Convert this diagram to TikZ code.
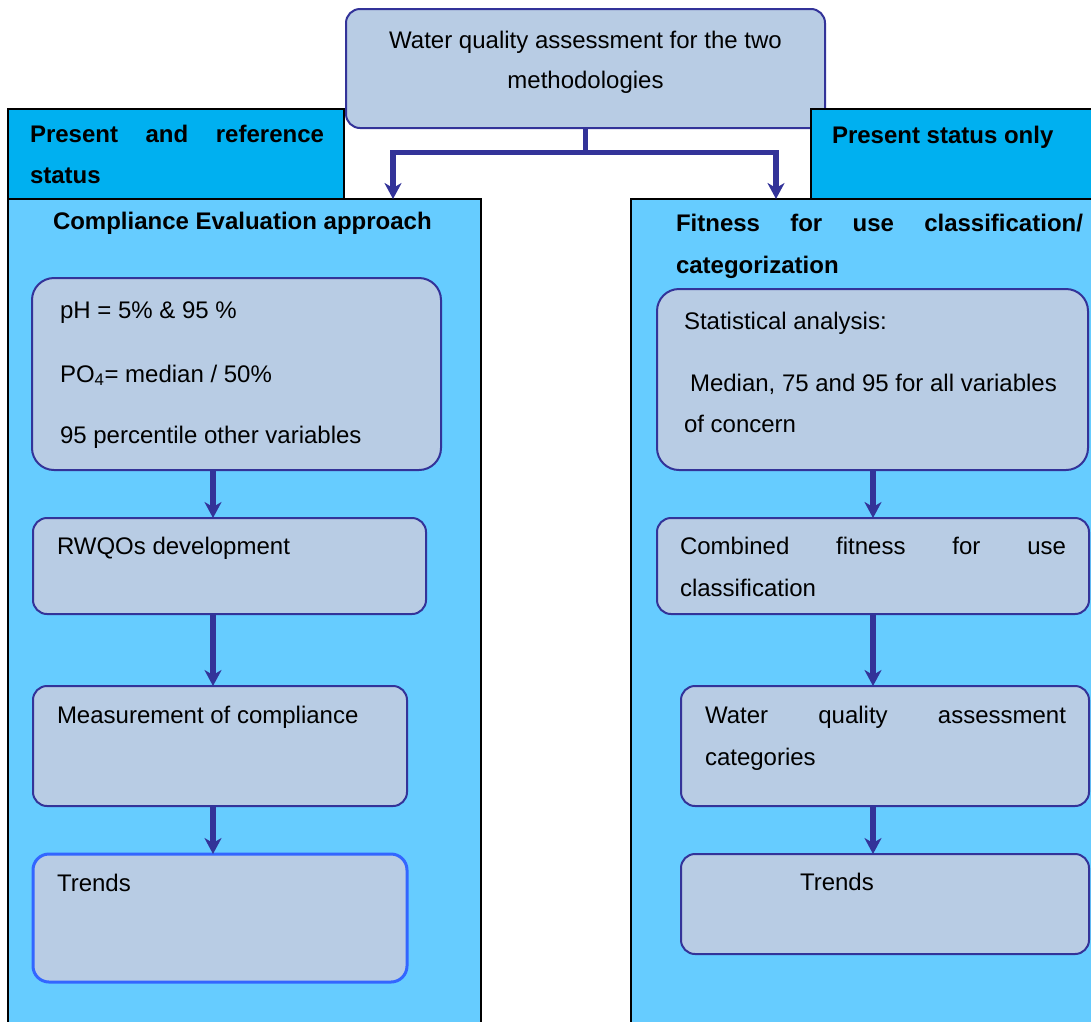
\documentclass[tikz,border=0pt]{standalone}
\usepackage{fontspec}
\setmainfont{Liberation Sans}
\usetikzlibrary{arrows.meta}
\definecolor{boxfill}{HTML}{B8CCE4}
\definecolor{boxline}{HTML}{333399}
\definecolor{panelfill}{HTML}{66CCFF}
\definecolor{headfill}{HTML}{00B0F0}
\definecolor{brightline}{HTML}{3366FF}
\begin{document}
\begin{tikzpicture}[x=1pt,y=-1pt,
  every node/.style={inner sep=0pt, outer sep=0pt},
  txt/.style={anchor=base west, font=\fontsize{24pt}{41pt}\selectfont},
  btxt/.style={anchor=base west, font=\fontsize{24pt}{41pt}\selectfont\bfseries},
  panel/.style={draw=black, line width=2.5pt, fill=panelfill, anchor=north west},
  header/.style={draw=black, line width=2.5pt, fill=headfill, anchor=north west},
  box/.style={draw=boxline, line width=2pt, fill=boxfill, anchor=north west, rounded corners=14pt},
  bigbox/.style={box, rounded corners=22pt},
  conn/.style={draw=boxline, line width=5.5pt, -{Stealth[length=16pt,width=17pt,inset=5pt]}},
]
\useasboundingbox (0,0) rectangle (1091,1021);
\clip (0,0) rectangle (1091,1021);

% top box
\node[box, minimum width=479pt, minimum height=119pt] (top) at (346,9) {};
\node[txt, anchor=base] (t1) at (585.5,48) {Water quality assessment for the two};
\node[txt, anchor=base] (t2) at (585.5,88) {methodologies};

% headers
\node[header, minimum width=336pt, minimum height=90pt] (Lhead) at (8,109) {};
\node[header, minimum width=300pt, minimum height=90pt] (Rhead) at (811,109) {};
\node[btxt] (hL1) at (30,142) {\hbox to 294pt{Present\hfill and\hfill reference}};
\node[btxt] (hL2) at (30,183) {status};
\node[btxt] (hR) at (832,143) {Present status only};

% panels
\node[panel, minimum width=473pt, minimum height=840pt] (Lpanel) at (8,199) {};
\node[panel, minimum width=480pt, minimum height=840pt] (Rpanel) at (631,199) {};
\node[btxt] (lt) at (53,229) {Compliance Evaluation approach};
\node[btxt] (rt1) at (676,231) {\hbox to 407pt{Fitness\hfill for\hfill use\hfill classification/}};
\node[btxt] (rt2) at (676,273) {categorization};

% connectors from top box
\coordinate (sp) at (585.5,152.5);
\coordinate (jl) at (393,152.5);
\coordinate (jr) at (776,152.5);
\draw[conn] (top.south -| sp) -- (sp) -| (Lpanel.north -| jl);
\draw[conn] (sp) -| (Rpanel.north -| jr);

% left boxes
\node[bigbox, minimum width=409pt, minimum height=192pt] (L1) at (32,278) {};
\node[box, minimum width=393pt, minimum height=96pt] (L2) at (33,518) {};
\node[box, minimum width=374pt, minimum height=120pt] (L3) at (33,686) {};
\node[box, draw=brightline, line width=3pt, rounded corners=16pt, minimum width=374pt, minimum height=128pt] (L4) at (33,854) {};

\node[txt] (l1a) at (60,318) {pH = 5\% \& 95 \%};
\node[txt] (l1b) at (60,382) {PO\textsubscript{4}= median / 50\%};
\node[txt] (l1c) at (60,443) {95 percentile other variables};
\node[txt] (l2) at (57,554) {RWQOs development};
\node[txt] (l3) at (57,723) {Measurement of compliance};
\node[txt] (l4) at (57,891) {Trends};

% right boxes
\node[bigbox, minimum width=431pt, minimum height=181pt] (R1) at (657,289) {};
\node[box, minimum width=432pt, minimum height=96pt] (R2) at (657,518) {};
\node[box, minimum width=408pt, minimum height=120pt] (R3) at (681,686) {};
\node[box, minimum width=408pt, minimum height=100pt] (R4) at (681,854) {};

\node[txt] (r1a) at (684,329) {Statistical analysis:};
\node[txt] (r1b) at (690,391) {Median, 75 and 95 for all variables};
\node[txt] (r1c) at (684,432) {of concern};
\node[txt] (r2a) at (680,554) {\hbox to 386pt{Combined\hfill fitness\hfill for\hfill use}};
\node[txt] (r2b) at (680,596) {classification};
\node[txt] (r3a) at (705,723) {\hbox to 361pt{Water\hfill quality\hfill assessment}};
\node[txt] (r3b) at (705,765) {categories};
\node[txt] (r4) at (800,890) {Trends};

% inner arrows
\coordinate (ax) at (213,0);
\coordinate (bx) at (873,0);
\draw[conn] (L1.south -| ax) -- (L2.north -| ax);
\draw[conn] (L2.south -| ax) -- (L3.north -| ax);
\draw[conn] (L3.south -| ax) -- (L4.north -| ax);
\draw[conn] (R1.south -| bx) -- (R2.north -| bx);
\draw[conn] (R2.south -| bx) -- (R3.north -| bx);
\draw[conn] (R3.south -| bx) -- (R4.north -| bx);
\end{tikzpicture}
\end{document}
